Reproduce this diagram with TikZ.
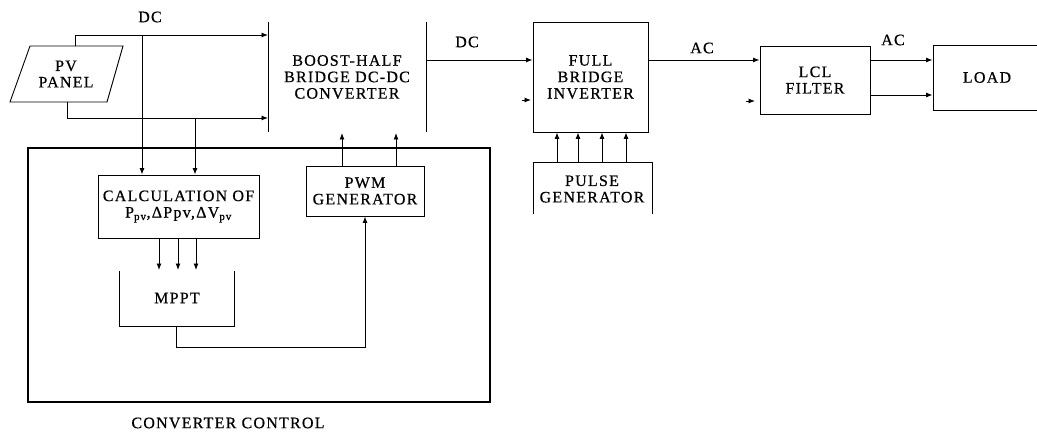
\documentclass[tikz,border=0pt]{standalone}
\usepackage{fontspec}
\setmainfont{Liberation Serif}
\newfontfamily\diagfont[LetterSpace=8,FakeBold=0.6]{Liberation Serif}
\usetikzlibrary{arrows.meta}

\begin{document}
\begin{tikzpicture}
    [x=1bp,y=-1bp,
     every node/.style={font=\diagfont\fontsize{16}{16.5}\selectfont,align=center,inner sep=0pt},
     blk/.style={draw,line width=0.9pt},
     arr/.style={-{Latex[length=6.5pt,width=5pt]},line width=0.9pt},
     bar/.style={line width=1pt}]
      \useasboundingbox (0,0) rectangle (1037,434);

      % converter control frame
      \draw[line width=2.2bp] (28,148) rectangle (490,402);
      \node (ctrl)  at (228,423) {CONVERTER CONTROL};

      % pv panel
      \draw[blk] (30,46) -- (123,46) -- (107,102) -- (10,102) -- cycle;
      \node (pv)    at (66,74) {PV\\PANEL};
      \coordinate (pvt) at (75,46);
      \coordinate (pvb) at (67,102);
      \node (dc1)   at (150,17) {DC};

      % boost half bridge
      \draw[bar] (268,22) -- (268,132);
      \draw[bar] (426,22) -- (426,132);
      \node (boost) at (347,77) {BOOST-HALF\\BRIDGE DC-DC\\CONVERTER};
      \coordinate (bin1) at (268,35);
      \coordinate (bin2) at (268,118);
      \coordinate (bout) at (426,60);

      % control blocks
      \node (calc)[blk,minimum width=161bp,minimum height=63bp] at (178.5,206.5)
            {CALCULATION OF\\P\textsubscript{pv},ΔPpv,ΔV\textsubscript{pv}};
      \draw[blk] (119,271) -- (119,326) -- (234,326) -- (234,271);
      \node (mppt)  at (177,298) {MPPT};
      \coordinate (mout) at (176,326);
      \node (pwm)[blk,minimum width=118bp,minimum height=50bp] at (365,191) {PWM\\GENERATOR};

      % inverter side
      \node (inv)[blk,minimum width=115bp,minimum height=110bp] at (590.5,77) {FULL\\BRIDGE\\INVERTER};
      \draw[blk] (533,214) -- (533,162) -- (652,162) -- (652,214);
      \node (pulse) at (592,189) {PULSE\\GENERATOR};
      \node (lcl)[blk,minimum width=110bp,minimum height=68bp] at (815,80) {LCL\\FILTER};
      \node (load)[blk,minimum width=108bp,minimum height=65bp] at (987,77.5) {LOAD};

      \node (dc2)   at (467,42) {DC};
      \node (ac1)   at (702,48) {AC};
      \node (ac2)   at (893,40) {AC};

      % dc links
      \draw[arr] (pvt) |- (bin1);
      \draw[arr] (pvb) |- (bin2);
      \draw[arr] (142,35) -- (142,35 |- calc.north);
      \draw[arr] (195,118) -- (195,118 |- calc.north);
      \foreach \x in {159,178,196}
	\draw[arr] (calc.south -| \x,0) -- (\x,270);
      \draw[arr] (mout) -- (176,347) -| (pwm.south);
      \foreach \x in {342,396}
	\draw[arr] (pwm.north -| \x,0) -- (\x,133);

      % power path
      \draw[arr] (bout) -- (bout -| inv.west);
      \draw[arr] (522,100) -- (531,100);
      \draw[arr] (inv.east |- 0,60) -- (lcl.west |- 0,60);
      \draw[arr] (746,101) -- (755,101);
      \foreach \y in {60,95}
	\draw[arr] (lcl.east |- 0,\y) -- (load.west |- 0,\y);
      \foreach \x in {557,578,602,626}
	\draw[arr] (\x,162) -- (\x,0 |- inv.south);
    \end{tikzpicture}
\end{document}
